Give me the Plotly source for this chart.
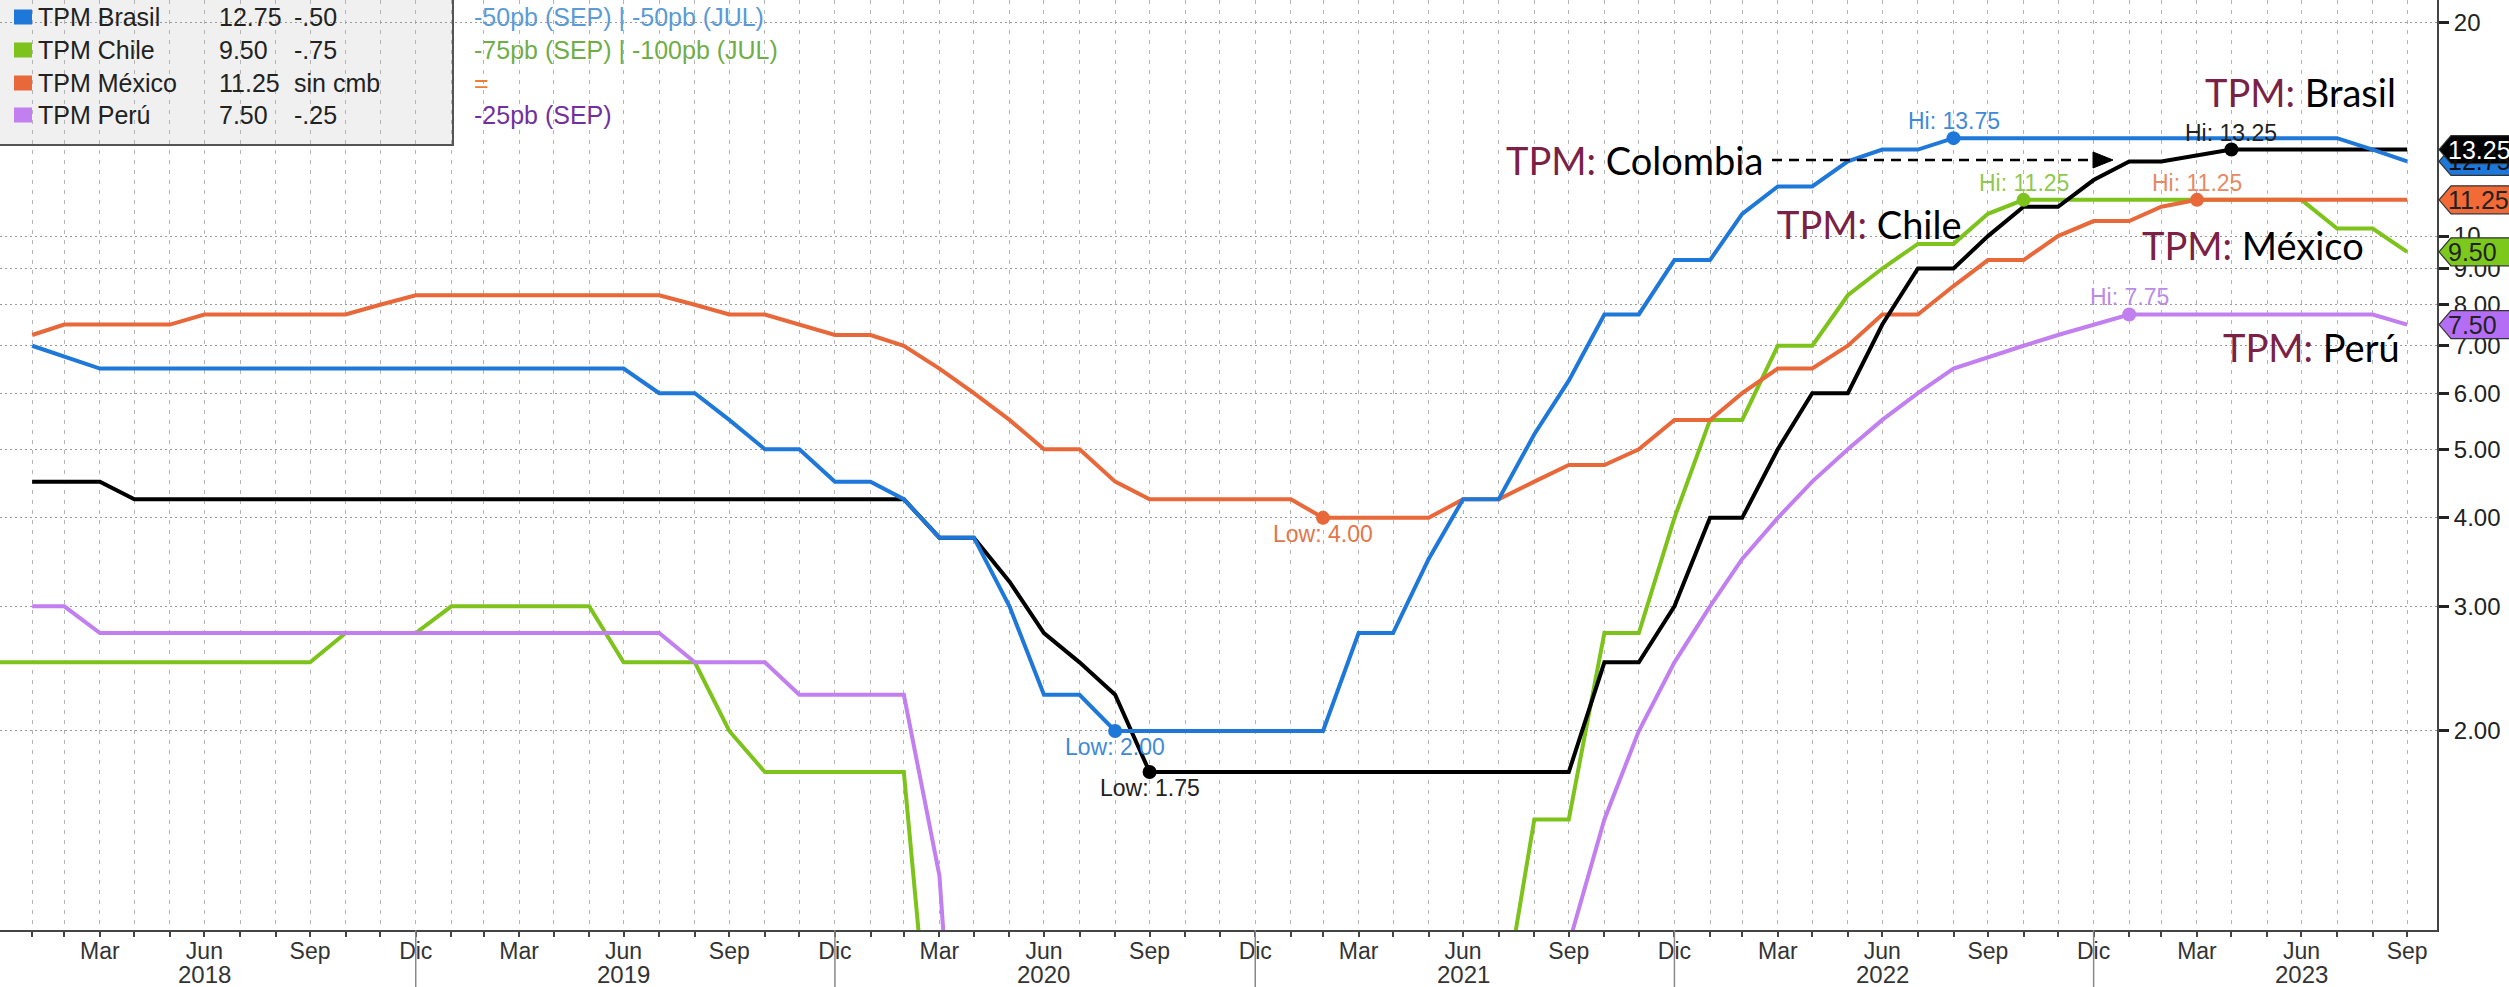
import math
import pandas as pd
import plotly.graph_objects as go

# ---------------- data (month-end values, Dec-2017 .. Sep-2023) ----------------
months = [d.strftime("%Y-%m-%d") for d in
          (pd.date_range("2017-12-01", periods=70, freq="MS") + pd.offsets.MonthEnd(0))]

brasil = [None,
          7.00, 6.75, 6.50, 6.50, 6.50, 6.50, 6.50, 6.50, 6.50, 6.50, 6.50, 6.50,
          6.50, 6.50, 6.50, 6.50, 6.50, 6.50, 6.00, 6.00, 5.50, 5.00, 5.00, 4.50,
          4.50, 4.25, 3.75, 3.75, 3.00, 2.25, 2.25, 2.00, 2.00, 2.00, 2.00, 2.00,
          2.00, 2.00, 2.75, 2.75, 3.50, 4.25, 4.25, 5.25, 6.25, 7.75, 7.75, 9.25,
          9.25, 10.75, 11.75, 11.75, 12.75, 13.25, 13.25, 13.75, 13.75, 13.75, 13.75, 13.75,
          13.75, 13.75, 13.75, 13.75, 13.75, 13.75, 13.75, 13.25, 12.75]

chile = [2.50,
         2.50, 2.50, 2.50, 2.50, 2.50, 2.50, 2.50, 2.50, 2.50, 2.75, 2.75, 2.75,
         3.00, 3.00, 3.00, 3.00, 3.00, 2.50, 2.50, 2.50, 2.00, 1.75, 1.75, 1.75,
         1.75, 1.75, 0.50, 0.50, 0.50, 0.50, 0.50, 0.50, 0.50, 0.50, 0.50, 0.50,
         0.50, 0.50, 0.50, 0.50, 0.50, 0.50, 0.75, 1.50, 1.50, 2.75, 2.75, 4.00,
         5.50, 5.50, 7.00, 7.00, 8.25, 9.00, 9.75, 9.75, 10.75, 11.25, 11.25, 11.25,
         11.25, 11.25, 11.25, 11.25, 11.25, 11.25, 10.25, 10.25, 9.50]

mexico = [None,
          7.25, 7.50, 7.50, 7.50, 7.50, 7.75, 7.75, 7.75, 7.75, 7.75, 8.00, 8.25,
          8.25, 8.25, 8.25, 8.25, 8.25, 8.25, 8.25, 8.00, 7.75, 7.75, 7.50, 7.25,
          7.25, 7.00, 6.50, 6.00, 5.50, 5.00, 5.00, 4.50, 4.25, 4.25, 4.25, 4.25,
          4.25, 4.00, 4.00, 4.00, 4.00, 4.25, 4.25, 4.50, 4.75, 4.75, 5.00, 5.50,
          5.50, 6.00, 6.50, 6.50, 7.00, 7.75, 7.75, 8.50, 9.25, 9.25, 10.00, 10.50,
          10.50, 11.00, 11.25, 11.25, 11.25, 11.25, 11.25, 11.25, 11.25]

peru = [None,
        3.00, 3.00, 2.75, 2.75, 2.75, 2.75, 2.75, 2.75, 2.75, 2.75, 2.75, 2.75,
        2.75, 2.75, 2.75, 2.75, 2.75, 2.75, 2.75, 2.50, 2.50, 2.50, 2.25, 2.25,
        2.25, 2.25, 1.25, 0.25, 0.25, 0.25, 0.25, 0.25, 0.25, 0.25, 0.25, 0.25,
        0.25, 0.25, 0.25, 0.25, 0.25, 0.25, 0.25, 0.50, 1.00, 1.50, 2.00, 2.50,
        3.00, 3.50, 4.00, 4.50, 5.00, 5.50, 6.00, 6.50, 6.75, 7.00, 7.25, 7.50,
        7.75, 7.75, 7.75, 7.75, 7.75, 7.75, 7.75, 7.75, 7.50]

colombia = [None,
            4.50, 4.50, 4.50, 4.25, 4.25, 4.25, 4.25, 4.25, 4.25, 4.25, 4.25, 4.25,
            4.25, 4.25, 4.25, 4.25, 4.25, 4.25, 4.25, 4.25, 4.25, 4.25, 4.25, 4.25,
            4.25, 4.25, 3.75, 3.75, 3.25, 2.75, 2.50, 2.25, 1.75, 1.75, 1.75, 1.75,
            1.75, 1.75, 1.75, 1.75, 1.75, 1.75, 1.75, 1.75, 1.75, 2.50, 2.50, 3.00,
            4.00, 4.00, 5.00, 6.00, 6.00, 7.50, 9.00, 9.00, 10.00, 11.00, 11.00, 12.00,
            12.75, 12.75, 13.00, 13.25, 13.25, 13.25, 13.25, 13.25, 13.25]

legend_names = ["TPM Brasil", "TPM Chile", "TPM México", "TPM Perú"]
legend_last = ["12.75", "9.50", "11.25", "7.50"]
legend_chg = ["-.50", "-.75", "sin cmb", "-.25"]
legend_notes = ["-50pb (SEP) | -50pb (JUL)", "-75pb (SEP) | -100pb (JUL)", "=", "-25pb (SEP)"]
note_colors = ["#5B9BD5", "#70AD47", "#ED7D31", "#7030A0"]

ytick_vals = [2, 3, 4, 5, 6, 7, 8, 9, 10, 20]
ytick_text = ["2.00", "3.00", "4.00", "5.00", "6.00", "7.00", "8.00", "9.00", "10", "20"]
month_abbr = {3: "Mar", 6: "Jun", 9: "Sep", 12: "Dic"}

# ---------------- styling ----------------
C_BR, C_CL, C_MX, C_PE, C_CO = "#1E78DA", "#7DC31C", "#E9683A", "#C17FF0", "#000000"
W, H = 2509, 987
ML, MR, MT, MB = 0, 72, 0, 57
PW, PH = W - ML - MR, H - MT - MB
Y_LO, Y_HI = math.log10(1.047), math.log10(21.55)
X_RANGE = ["2018-01-03", "2023-10-26"]
FONT = "Liberation Sans, Arial, sans-serif"
OFONT = "Lato, Calibri, sans-serif"


def px(x):
    return x / PW


def py(y):
    return 1 - y / PH


def yp(v):
    return (math.log10(v) - Y_LO) / (Y_HI - Y_LO)


fig = go.Figure()

series = [("Chile", chile, C_CL), ("Perú", peru, C_PE), ("México", mexico, C_MX),
          ("Colombia", colombia, C_CO), ("Brasil", brasil, C_BR)]
for name, vals, col in series:
    fig.add_trace(go.Scatter(x=months, y=vals, mode="lines", name="TPM " + name,
                             line=dict(color=col, width=4), showlegend=False))

# Hi / Low markers and labels
extremes = [(brasil, C_BR, "Hi", "#3F8AD8"), (brasil, C_BR, "Low", "#3F8AD8"),
            (colombia, C_CO, "Hi", "#222222"), (colombia, C_CO, "Low", "#222222"),
            (chile, C_CL, "Hi", "#8FC84E"), (mexico, C_MX, "Hi", "#E58A64"),
            (mexico, C_MX, "Low", "#E2764A"), (peru, C_PE, "Hi", "#BB8BEA")]
annotations = []
for vals, col, kind, tcol in extremes:
    valid = [v for v in vals if v is not None]
    target = max(valid) if kind == "Hi" else min(valid)
    i = vals.index(target)
    fig.add_trace(go.Scatter(x=[months[i]], y=[target], mode="markers", showlegend=False,
                             marker=dict(color=col, size=14)))
    annotations.append(dict(x=months[i], y=math.log10(target), xref="x", yref="y",
                            text=f"{kind}: {target:.2f}", showarrow=False,
                            yshift=17 if kind == "Hi" else -16,
                            font=dict(family=FONT, size=23, color=tcol)))

shapes = []
# legend box (top-left)
shapes.append(dict(type="rect", xref="paper", yref="paper", x0=-0.01, x1=px(453),
                   y0=py(145), y1=1.02, fillcolor="#F0F0F0",
                   line=dict(color="#555555", width=2), layer="below"))
row_y = [17, 50, 83, 115]
for k, col in enumerate([C_BR, C_CL, C_MX, C_PE]):
    shapes.append(dict(type="rect", xref="paper", yref="paper", x0=px(14), x1=px(32),
                       y0=py(row_y[k] + 7.5), y1=py(row_y[k] - 7.5), fillcolor=col,
                       line=dict(width=0), layer="above"))
    for xx, txt, colr in [(36, legend_names[k], "#222"), (217, legend_last[k], "#222"),
                          (292, legend_chg[k], "#222"), (472, legend_notes[k], note_colors[k])]:
        annotations.append(dict(x=px(xx), y=py(row_y[k]), xref="paper", yref="paper",
                                xanchor="left", yanchor="middle", showarrow=False,
                                text=txt, font=dict(family=FONT, size=25, color=colr)))

# year separators under the axis (at December ticks) and year labels (under June)
for d in months:
    if d.endswith("-12-31") and "2018" <= d[:4] <= "2022":
        shapes.append(dict(type="line", xref="x", yref="paper", x0=d, x1=d, y0=0, y1=-MB / PH,
                           line=dict(color="#888888", width=1.5)))
    if d[5:7] == "06":
        annotations.append(dict(x=d, y=py(974), xref="x", yref="paper", xanchor="center",
                                yanchor="middle", showarrow=False, text=d[:4],
                                font=dict(family=FONT, size=24, color="#333")))

# right-axis value tags
tags = [(brasil[-1], C_BR, "#111"), (colombia[-1], "#000000", "#FFFFFF"),
        (mexico[-1], "#F26A35", "#222"), (chile[-1], "#7CC81C", "#222"),
        (peru[-1], "#B46EF5", "#222")]
hh = 14 / PH
for v, fill, tc in tags:
    yc = yp(v)
    x_tip, x_sh, x_r = px(2439), px(2451), px(2530)
    path = (f"M {x_tip},{yc} L {x_sh},{yc + hh} L {x_r},{yc + hh} "
            f"L {x_r},{yc - hh} L {x_sh},{yc - hh} Z")
    shapes.append(dict(type="path", xref="paper", yref="paper", path=path,
                       fillcolor=fill, line=dict(color="#333333", width=1.2), layer="above"))
    annotations.append(dict(x=px(2447), y=yc, xref="paper", yref="paper", xanchor="left",
                            yanchor="middle", showarrow=False, text=f"{v:.2f}", borderpad=0,
                            font=dict(family=FONT, size=25, color=tc)))

# overlay labels
maroon = "#7A2145"
overlay = [("Brasil", 2398, 92, "right"), ("Colombia", 1504, 160, "left"),
           ("Chile", 1775, 224, "left"), ("México", 2140, 245, "left"),
           ("Perú", 2402, 347, "right")]
for name, x, y, anc in overlay:
    annotations.append(dict(x=px(x), y=py(y), xref="paper", yref="paper", xanchor=anc,
                            yanchor="middle", showarrow=False,
                            text=f"<span style='color:{maroon}'>TPM:</span> {name}",
                            font=dict(family=OFONT, size=38, color="#000")))

# dashed arrow from Colombia label
shapes.append(dict(type="line", xref="paper", yref="paper", x0=px(1772), x1=px(2096),
                   y0=py(160), y1=py(160), line=dict(color="#000", width=2.5, dash="10px,7px"),
                   layer="above"))
shapes.append(dict(type="path", xref="paper", yref="paper",
                   path=f"M {px(2093)},{py(152)} L {px(2113)},{py(160)} L {px(2093)},{py(168)} Z",
                   fillcolor="#000", line=dict(color="#000", width=1), layer="above"))

# x ticks
tickvals = months[1:]
ticktext = [month_abbr.get(int(d[5:7]), "") for d in tickvals]

fig.update_layout(
    width=W, height=H, margin=dict(l=ML, r=MR, t=MT, b=MB, autoexpand=False),
    paper_bgcolor="white", plot_bgcolor="white",
    font=dict(family=FONT, size=23, color="#222"),
    showlegend=False, shapes=shapes, annotations=annotations,
    xaxis=dict(type="date", range=X_RANGE, tickmode="array", tickvals=tickvals,
               ticktext=ticktext, tickangle=0, showgrid=True, gridcolor="#B4B4B4",
               gridwidth=1.2, griddash="4px,6px", showline=True, linecolor="#444",
               linewidth=2, ticks="outside", ticklen=5, tickwidth=1.5, tickcolor="#444",
               ticklabelstandoff=-6,
               tickfont=dict(family=FONT, size=23, color="#333"), zeroline=False,
               automargin=False),
    yaxis=dict(type="log", side="right", range=[Y_LO, Y_HI], tickmode="array",
               tickvals=ytick_vals, ticktext=ytick_text, showgrid=True,
               gridcolor="#9A9A9A", gridwidth=1.2, griddash="2px,3px", showline=True,
               linecolor="#444", linewidth=2, ticks="outside", ticklen=10, tickwidth=2.5,
               tickcolor="#222", tickfont=dict(family=FONT, size=24, color="#222"),
               zeroline=False, automargin=False),
)

fig.write_html("out.html", config={"displayModeBar": False},
               post_script="document.body.style.margin='0px';document.body.style.overflow='hidden';")
